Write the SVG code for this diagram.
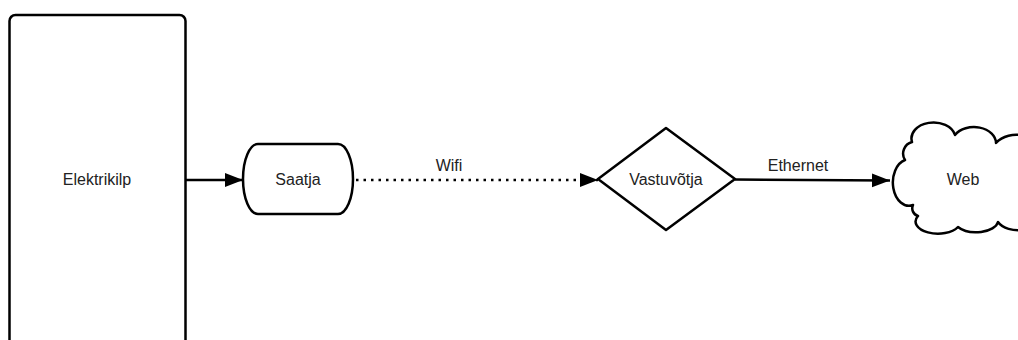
<svg xmlns="http://www.w3.org/2000/svg" width="1018" height="340" viewBox="0 0 1018 340">
<style>
.shape{fill:#fff;stroke:#000;stroke-width:2.5;stroke-linejoin:round}
.lbl{font-family:"Liberation Sans",Arial,sans-serif;font-size:16px;fill:#222;text-anchor:middle}
.conn{fill:none;stroke:#000;stroke-width:2.5}
.dot{fill:none;stroke:#000;stroke-width:2.5;stroke-dasharray:2.5 5}
</style>
<defs>
<marker id="arr" markerUnits="userSpaceOnUse" markerWidth="20" markerHeight="16" refX="18" refY="7" orient="auto">
<path d="M0,0 L18,7 L0,14 Z" fill="#000"/>
</marker>
</defs>
<rect width="1018" height="340" fill="#fff"/>
<g id="connectors">
<line class="conn" x1="185" y1="180" x2="243" y2="180" marker-end="url(#arr)"/>
<line class="dot" x1="356" y1="180" x2="598" y2="180" marker-end="url(#arr)"/>
<line class="conn" x1="735" y1="179.5" x2="890" y2="180.5" marker-end="url(#arr)"/>
<text class="lbl" x="449" y="171">Wifi</text>
<text class="lbl" x="798" y="171">Ethernet</text>
</g>
<g id="elektrikilp">
<rect class="shape" x="9.5" y="15" width="176" height="345" rx="6"/>
<text class="lbl" x="97" y="185">Elektrikilp</text>
</g>
<g id="saatja">
<path class="shape" d="M258,144 L338,144 A15 35 0 0 1 338,214 L258,214 A15 35 0 0 1 258,144 Z"/>
<text class="lbl" x="298" y="185">Saatja</text>
</g>
<g id="vastuvotja">
<path class="shape" d="M598,179 L666,128 L735,179 L666,230 Z"/>
<text class="lbl" x="666" y="185">Vastuvõtja</text>
</g>
<g id="web">
<path class="shape" d="M913,205 A16 23 0 0 1 905,160 A12 12 0 0 1 912,142 A22 16 0 0 1 955,135 A22 16 0 0 1 996,143 A24 18 0 0 1 1040,155 L1040,215 A22 14 0 0 1 998,222 A22 12 0 0 1 958,227 A22 12 0 0 1 918,216 A8 8 0 0 1 913,205 Z"/>
<text class="lbl" x="963" y="185">Web</text>
</g>
</svg>
